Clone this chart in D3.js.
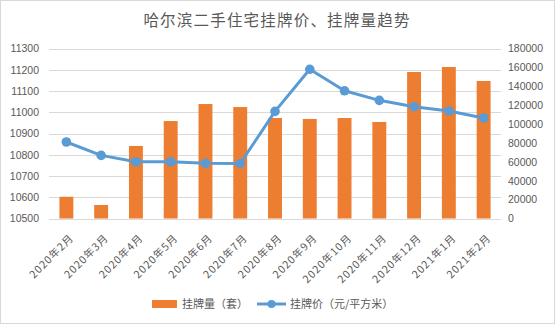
<!DOCTYPE html>
<html>
<head>
<meta charset="utf-8">
<script src="https://cdn.jsdelivr.net/npm/d3@7"></script>
<style>
  html, body { margin: 0; padding: 0; background: #fff; }
  svg { display: block; }
</style>
</head>
<body>
<svg id="chart" width="555" height="324"></svg>
<script>
// Monthly listing volume (bars, right axis) and listing price (line, left axis)
const months = ["2020年2月", "2020年3月", "2020年4月", "2020年5月", "2020年6月", "2020年7月",
  "2020年8月", "2020年9月", "2020年10月", "2020年11月", "2020年12月", "2021年1月", "2021年2月"];
const listingCount = [23000, 14300, 76800, 103200, 121200, 118000, 106400, 105400, 106400, 102200, 155100, 160400, 145600];
const listingPrice = [10860, 10797, 10767, 10767, 10760, 10759, 11004, 11202, 11101, 11056, 11026, 11006, 10973];
const priceTicks = [10500, 10600, 10700, 10800, 10900, 11000, 11100, 11200, 11300];
const countTicks = [0, 20000, 40000, 60000, 80000, 100000, 120000, 140000, 160000, 180000];

const W = 555, H = 324;
const plot = { left: 49, right: 501, top: 48.5, bottom: 218.5 };
const numFont = "'Liberation Sans', Arial, sans-serif";
const cjkFont = "'Noto Sans CJK SC', sans-serif";
const textColor = "#595959";
const barColor = "#ED7D31";
const lineColor = "#5B9BD5";

const svg = d3.select("#chart");

// outer frame
svg.append("rect").attr("x", 0.5).attr("y", 0.5).attr("width", W - 1).attr("height", H - 1)
  .attr("fill", "#fff").attr("stroke", "#d9d9d9");

// title
svg.append("text").attr("x", 277).attr("y", 26).attr("text-anchor", "middle")
  .attr("font-family", cjkFont).attr("font-size", 15.5).attr("letter-spacing", 1.2)
  .attr("fill", textColor).text("哈尔滨二手住宅挂牌价、挂牌量趋势");

const x = d3.scaleBand().domain(months).range([plot.left, plot.right]).paddingInner(0.6).paddingOuter(0.3);
const yPrice = d3.scaleLinear().domain([10500, 11300]).range([plot.bottom, plot.top]);
const yCount = d3.scaleLinear().domain([0, 180000]).range([plot.bottom, plot.top]);

// gridlines follow the price axis
svg.append("g").selectAll("line").data(priceTicks).join("line")
  .attr("x1", plot.left).attr("x2", plot.right)
  .attr("y1", d => Math.round(yPrice(d)) + 0.5).attr("y2", d => Math.round(yPrice(d)) + 0.5)
  .attr("stroke", "#d9d9d9").attr("stroke-width", 1);

// left axis (price)
const leftAxis = svg.append("g").attr("transform", `translate(${plot.left},0)`)
  .call(d3.axisLeft(yPrice).tickValues(priceTicks).tickSize(0).tickPadding(10).tickFormat(d3.format("d")));
leftAxis.select(".domain").remove();
leftAxis.selectAll("text").attr("font-family", numFont).attr("font-size", 10.5).attr("fill", textColor);

// right axis (count)
const rightAxis = svg.append("g").attr("transform", `translate(${plot.right},0)`)
  .call(d3.axisRight(yCount).tickValues(countTicks).tickSize(0).tickPadding(7).tickFormat(d3.format("d")));
rightAxis.select(".domain").remove();
rightAxis.selectAll("text").attr("font-family", numFont).attr("font-size", 10.5).attr("fill", textColor);

// bars
svg.append("g").selectAll("rect").data(months).join("rect")
  .attr("x", d => x(d)).attr("width", x.bandwidth())
  .attr("y", (d, i) => yCount(listingCount[i]))
  .attr("height", (d, i) => plot.bottom - yCount(listingCount[i]))
  .attr("fill", barColor);

// bottom axis labels, rotated
const bottomAxis = svg.append("g").attr("transform", `translate(0,${plot.bottom})`)
  .call(d3.axisBottom(x).tickSize(0).tickPadding(0));
bottomAxis.select(".domain").remove();
bottomAxis.selectAll("text")
  .attr("font-family", cjkFont).attr("font-size", 10.5).attr("letter-spacing", 1).attr("fill", textColor)
  .attr("text-anchor", "end").attr("dy", 0)
  .attr("transform", "translate(8,20) rotate(-45)");

// price line
const pts = months.map((m, i) => [x(m) + x.bandwidth() / 2, yPrice(listingPrice[i])]);
svg.append("path").attr("d", d3.line()(pts))
  .attr("fill", "none").attr("stroke", lineColor).attr("stroke-width", 3).attr("stroke-linejoin", "round");
svg.append("g").selectAll("circle").data(pts).join("circle")
  .attr("cx", d => d[0]).attr("cy", d => d[1]).attr("r", 4.8).attr("fill", lineColor);

// legend
const lg = svg.append("g");
lg.append("rect").attr("x", 152).attr("y", 300).attr("width", 25).attr("height", 8).attr("fill", barColor);
lg.append("text").attr("x", 182).attr("y", 308).attr("font-family", cjkFont).attr("font-size", 11)
  .attr("fill", textColor).text("挂牌量（套）");
lg.append("line").attr("x1", 257).attr("x2", 286).attr("y1", 304).attr("y2", 304)
  .attr("stroke", lineColor).attr("stroke-width", 3);
lg.append("circle").attr("cx", 271.5).attr("cy", 304).attr("r", 4).attr("fill", lineColor);
lg.append("text").attr("x", 290).attr("y", 308).attr("font-family", cjkFont).attr("font-size", 11)
  .attr("fill", textColor).text("挂牌价（元/平方米）");
</script>
</body>
</html>
